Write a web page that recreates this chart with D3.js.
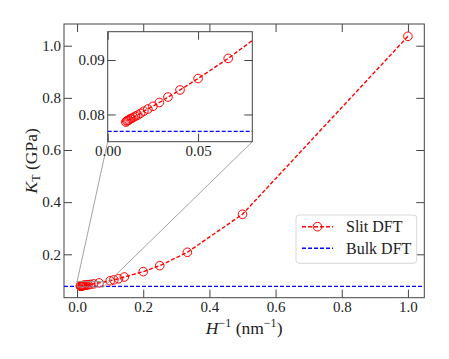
<!DOCTYPE html>
<meta charset="utf-8">
<html>
<head>
<style>
  body { margin: 0; background: #fff; }
  svg { font-family: "Liberation Serif", "DejaVu Serif", serif; }
  .axis path, .axis line { stroke: #444; stroke-width: 1px; }
  .axis text { fill: #222; font-size: 15px; font-family: "Liberation Serif", "DejaVu Serif", serif; }
  .slit { fill: none; stroke: #ff0000; stroke-width: 1.4px; stroke-dasharray: 4,2; }
  .bulk { fill: none; stroke: #0000ff; stroke-width: 1.4px; stroke-dasharray: 4,2; }
  .dot { fill: none; stroke: #ff0000; stroke-width: 1px; }
  .conn { stroke: #999; stroke-width: 0.9px; fill: none; }
</style>
</head>
<body>
<svg width="449" height="359"></svg>
<script src="https://d3js.org/d3.v7.min.js"></script>
<script>

// slit pore widths H (nm) -> plotted as 1/H
var poreH = [1, 2, 3, 4, 5, 7, 8, 9, 10, 15, 20, 25, 30, 35, 40, 45, 50, 55, 60, 65, 70, 75, 80, 85, 90, 95, 100];
// compressibility modulus K_T (GPa)
var slitK = [1.036, 0.3535, 0.2078, 0.1565, 0.1335, 0.1130, 0.1060, 0.1020, 0.0985, 0.0903,
             0.0866, 0.0845, 0.0832, 0.0822, 0.0815, 0.0810, 0.0806, 0.0802, 0.0799, 0.0797,
             0.0795, 0.0793, 0.0792, 0.0790, 0.0789, 0.0788, 0.0786];
var bulkK = 0.0769;

var xTicks = [0, 0.2, 0.4, 0.6, 0.8, 1.0];
var yTicks = [0.2, 0.4, 0.6, 0.8, 1.0];
var insetXTicks = [0, 0.05];
var insetYTicks = [0.08, 0.09];

var data = poreH.map(function (h, i) { return {x: 1 / h, k: slitK[i]}; });

var svg = d3.select("svg"),
    margin = {top: 24, left: 64},
    width = 360.3,
    height = 273.7;

var x = d3.scaleLinear().domain([-0.0395, 1.0495]).range([0, width]),
    y = d3.scaleLinear().domain([0.0336, 1.0832]).range([height, 0]);

var main = svg.append("g")
    .attr("transform", "translate(" + margin.left + "," + margin.top + ")");

main.append("defs").append("clipPath").attr("id", "clipMain")
    .append("rect").attr("width", width).attr("height", height);

// inset geometry (in svg coords)
var inset = {left: 107.7, top: 31.7, width: 144.6, height: 110};
var xi = d3.scaleLinear().domain([0, 0.08]).range([0, inset.width]),
    yi = d3.scaleLinear().domain([0.075, 0.0952]).range([inset.height, 0]);

// zoom rectangle and connector lines
var rx0 = margin.left + x(0), rx1 = margin.left + x(0.08),
    ry0 = margin.top + y(0.0952), ry1 = margin.top + y(0.075);
svg.append("rect").attr("class", "conn")
    .attr("x", rx0).attr("y", ry0).attr("width", rx1 - rx0).attr("height", ry1 - ry0);
svg.append("line").attr("class", "conn")
    .attr("x1", inset.left).attr("y1", inset.top + inset.height)
    .attr("x2", rx0).attr("y2", ry0);
svg.append("line").attr("class", "conn")
    .attr("x1", inset.left + inset.width).attr("y1", inset.top + inset.height)
    .attr("x2", rx1).attr("y2", ry1);

var plot = main.append("g").attr("clip-path", "url(#clipMain)");

plot.append("line").attr("class", "bulk")
    .attr("x1", 0).attr("x2", width)
    .attr("y1", y(bulkK)).attr("y2", y(bulkK));

var line = d3.line().x(function (d) { return x(d.x); }).y(function (d) { return y(d.k); });
plot.append("path").datum(data).attr("class", "slit").attr("d", line);
plot.selectAll(".dot").data(data).enter().append("circle")
    .attr("class", "dot").attr("r", 4.3)
    .attr("cx", function (d) { return x(d.x); })
    .attr("cy", function (d) { return y(d.k); });

// axes, ticks pointing inward on all four sides
function axes(g, xs, ys, w, h, xt, yt, xf, yf, tl) {
  g.append("g").attr("class", "axis").attr("transform", "translate(0," + h + ")")
      .call(d3.axisBottom(xs).tickValues(xt).tickFormat(d3.format(xf)).tickSize(-tl).tickPadding(4));
  g.append("g").attr("class", "axis")
      .call(d3.axisTop(xs).tickValues(xt).tickFormat("").tickSize(-tl));
  g.append("g").attr("class", "axis")
      .call(d3.axisLeft(ys).tickValues(yt).tickFormat(d3.format(yf)).tickSize(-tl).tickPadding(3));
  g.append("g").attr("class", "axis").attr("transform", "translate(" + w + ",0)")
      .call(d3.axisRight(ys).tickValues(yt).tickFormat("").tickSize(-tl));
  g.selectAll(".axis").attr("font-family", null).attr("font-size", null);
  g.selectAll(".axis .domain").remove();
  g.append("rect").attr("width", w).attr("height", h)
      .attr("fill", "none").attr("stroke", "#444").attr("stroke-width", 1);
}
axes(main, x, y, width, height, xTicks, yTicks, ".1f", ".1f", 8);

// legend
var lg = main.append("g").attr("transform", "translate(" + (296 - margin.left) + "," + (215 - margin.top) + ")");
lg.append("rect").attr("width", 120.7).attr("height", 48.3).attr("rx", 3)
    .attr("fill", "#fff").attr("fill-opacity", 0.85).attr("stroke", "#d8d8d8");
var items = [{label: "Slit DFT", cls: "slit", marker: true}, {label: "Bulk DFT", cls: "bulk", marker: false}];
items.forEach(function (it, i) {
  var cy = 11.7 + i * 21.6;
  lg.append("line").attr("class", it.cls).attr("x1", 6).attr("x2", 37).attr("y1", cy).attr("y2", cy);
  if (it.marker) lg.append("circle").attr("class", "dot").attr("r", 4.3).attr("cx", 21.5).attr("cy", cy);
  lg.append("text").attr("x", 50).attr("y", cy).attr("dy", "0.35em")
      .attr("font-size", 16).attr("fill", "#222").text(it.label);
});

// inset axes
var ig = svg.append("g").attr("transform", "translate(" + inset.left + "," + inset.top + ")");
ig.append("rect").attr("width", inset.width).attr("height", inset.height).attr("fill", "#fff");
ig.append("defs").append("clipPath").attr("id", "clipInset")
    .append("rect").attr("width", inset.width).attr("height", inset.height);
var ip = ig.append("g").attr("clip-path", "url(#clipInset)");
ip.append("line").attr("class", "bulk")
    .attr("x1", 0).attr("x2", inset.width)
    .attr("y1", yi(bulkK)).attr("y2", yi(bulkK));
var lineI = d3.line().x(function (d) { return xi(d.x); }).y(function (d) { return yi(d.k); });
ip.append("path").datum(data).attr("class", "slit").attr("d", lineI);
ip.selectAll(".dot").data(data).enter().append("circle")
    .attr("class", "dot").attr("r", 4.3)
    .attr("cx", function (d) { return xi(d.x); })
    .attr("cy", function (d) { return yi(d.k); });
axes(ig, xi, yi, inset.width, inset.height, insetXTicks, insetYTicks, ".2f", ".2f", 8);

// axis labels
var xl = svg.append("text").attr("x", margin.left + width / 2).attr("y", 334)
    .attr("text-anchor", "middle").attr("font-size", 17.5).attr("fill", "#222");
xl.append("tspan").attr("font-style", "italic").text("H");
xl.append("tspan").attr("font-size", 12).attr("dy", -7).text("\u22121");
xl.append("tspan").attr("dy", 7).text(" (nm");
xl.append("tspan").attr("font-size", 12).attr("dy", -7).text("\u22121");
xl.append("tspan").attr("dy", 7).text(")");

var yl = svg.append("text")
    .attr("transform", "translate(37," + (margin.top + height / 2) + ") rotate(-90)")
    .attr("text-anchor", "middle").attr("font-size", 17.5).attr("fill", "#222");
yl.append("tspan").attr("font-style", "italic").text("K");
yl.append("tspan").attr("font-size", 12).attr("dy", 3).text("T");
yl.append("tspan").attr("dy", -3).text(" (GPa)");

</script>
</body>
</html>
